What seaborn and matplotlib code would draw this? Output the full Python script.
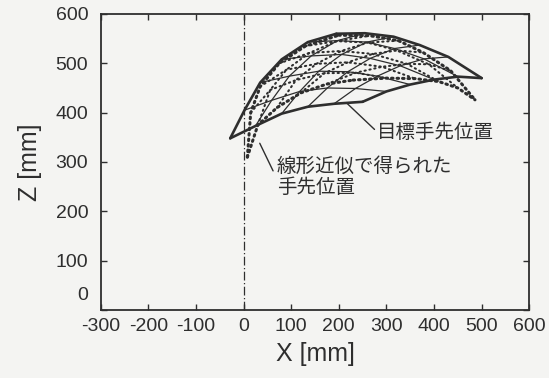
import pandas as pd
import matplotlib
matplotlib.use("Agg")
import matplotlib.pyplot as plt
import matplotlib.transforms as mtransforms
import seaborn as sns

# Target hand positions: grid nodes [row][col] in mm
target_x = [
    [-28, 25, 80, 135, 190, 250],
    [2, 59, 118, 176, 235, 300],
    [35, 96, 158, 219, 281, 350],
    [80, 142, 206, 266, 329, 400],
    [135, 197, 259, 317, 379, 450],
    [195, 255, 315, 370, 430, 500],
]
target_z = [
    [348, 373, 398, 412, 418, 422],
    [405, 425, 443, 450, 449, 443],
    [461, 474, 484, 483, 474, 457],
    [508, 515, 518, 510, 495, 467],
    [543, 546, 543, 530, 509, 473],
    [560, 561, 554, 537, 513, 470],
]

# Hand positions obtained by linear approximation
approx_x = [
    [8, 30, 70, 120, 175, 230],
    [15, 56, 110, 170, 236, 300],
    [35, 90, 153, 219, 291, 360],
    [75, 138, 205, 271, 343, 410],
    [130, 196, 261, 322, 389, 450],
    [200, 265, 325, 377, 435, 486],
]
approx_z = [
    [310, 375, 410, 440, 458, 466],
    [400, 446, 466, 480, 481, 470],
    [453, 487, 499, 502, 493, 469],
    [500, 521, 525, 519, 499, 463],
    [535, 545, 542, 526, 498, 450],
    [557, 556, 546, 522, 485, 426],
]

x_ticks = [-300, -200, -100, 0, 100, 200, 300, 400, 500, 600]
z_ticks = [0, 100, 200, 300, 400, 500, 600]

label_target = "目標手先位置"
label_approx = "線形近似で得られた\n手先位置"


def grid_lines(xs, zs):
    """Long-form table of all grid lines (rows and columns)."""
    recs = []
    n_r, n_c = len(xs), len(xs[0])
    for r in range(n_r):
        edge = r in (0, n_r - 1)
        for c in range(n_c):
            recs.append(dict(X=xs[r][c], Z=zs[r][c], unit=f"r{r}", edge=edge, order=c))
    for c in range(n_c):
        edge = c in (0, n_c - 1)
        for r in range(n_r):
            recs.append(dict(X=xs[r][c], Z=zs[r][c], unit=f"c{c}", edge=edge, order=r))
    return pd.DataFrame(recs)


sns.set_theme(style="ticks")
plt.rcParams["font.family"] = ["Liberation Sans", "Noto Sans CJK JP", "DejaVu Sans"]
plt.rcParams["axes.unicode_minus"] = False

ink = "#2e2e2e"
paper = "#f4f4f2"

fig = plt.figure(figsize=(5.49, 3.78), dpi=100, facecolor=paper)
ax = fig.add_axes([0.1834, 0.1799, 0.7807, 0.7831])
ax.set_facecolor(paper)

# reference line X = 0
ax.axvline(0, color=ink, lw=0.9, linestyle=(0, (7, 2, 1, 2)), zorder=1)

tgt = grid_lines(target_x, target_z)
apx = grid_lines(approx_x, approx_z)

common = dict(x="X", y="Z", units="unit", estimator=None, sort=False, ax=ax, legend=False)

sns.lineplot(data=apx[~apx.edge], color=ink, lw=1.5,
             linestyle=(0, (0.6, 1.8)), dash_capstyle="round", **common)
sns.lineplot(data=apx[apx.edge], color=ink, lw=2.2,
             linestyle=(0, (0.5, 1.3)), dash_capstyle="round", **common)
sns.lineplot(data=tgt[~tgt.edge], color=ink, lw=0.9, **common)
sns.lineplot(data=tgt[tgt.edge], color=ink, lw=1.9, solid_joinstyle="round", **common)

# labels with leader lines
ax.plot([216, 275], [420, 366], color=ink, lw=1.0)
ax.text(280, 360, label_target, fontsize=14, color=ink, va="center", ha="left",
        family=["Noto Sans CJK JP"])
ax.plot([34, 62], [338, 282], color=ink, lw=1.0)
ax.text(70, 312, label_approx, fontsize=14, color=ink, va="top", ha="left",
        linespacing=1.0, family=["Noto Sans CJK JP"])

ax.set_xlim(-300, 600)
ax.set_ylim(0, 600)
ax.set_xticks(x_ticks)
ax.set_yticks(z_ticks)
ax.tick_params(direction="in", top=True, right=True, length=4, width=1.0,
               colors=ink, labelsize=14)
ax.tick_params(axis="x", pad=6)
ax.tick_params(axis="y", pad=9)
for s in ax.spines.values():
    s.set_color(ink)
    s.set_linewidth(1.3)
ax.set_xlabel("X [mm]", fontsize=18, color=ink, labelpad=5)
ax.set_ylabel("Z [mm]", fontsize=18, color=ink, labelpad=10)

# the "0" on the Z axis sits a little above the corner
fig.canvas.draw()
zero_lbl = ax.get_yticklabels()[0]
zero_lbl.set_transform(zero_lbl.get_transform() +
                       mtransforms.ScaledTranslation(0, 12 / 72, fig.dpi_scale_trans))

fig.savefig("out.png", dpi=100, facecolor=paper)
